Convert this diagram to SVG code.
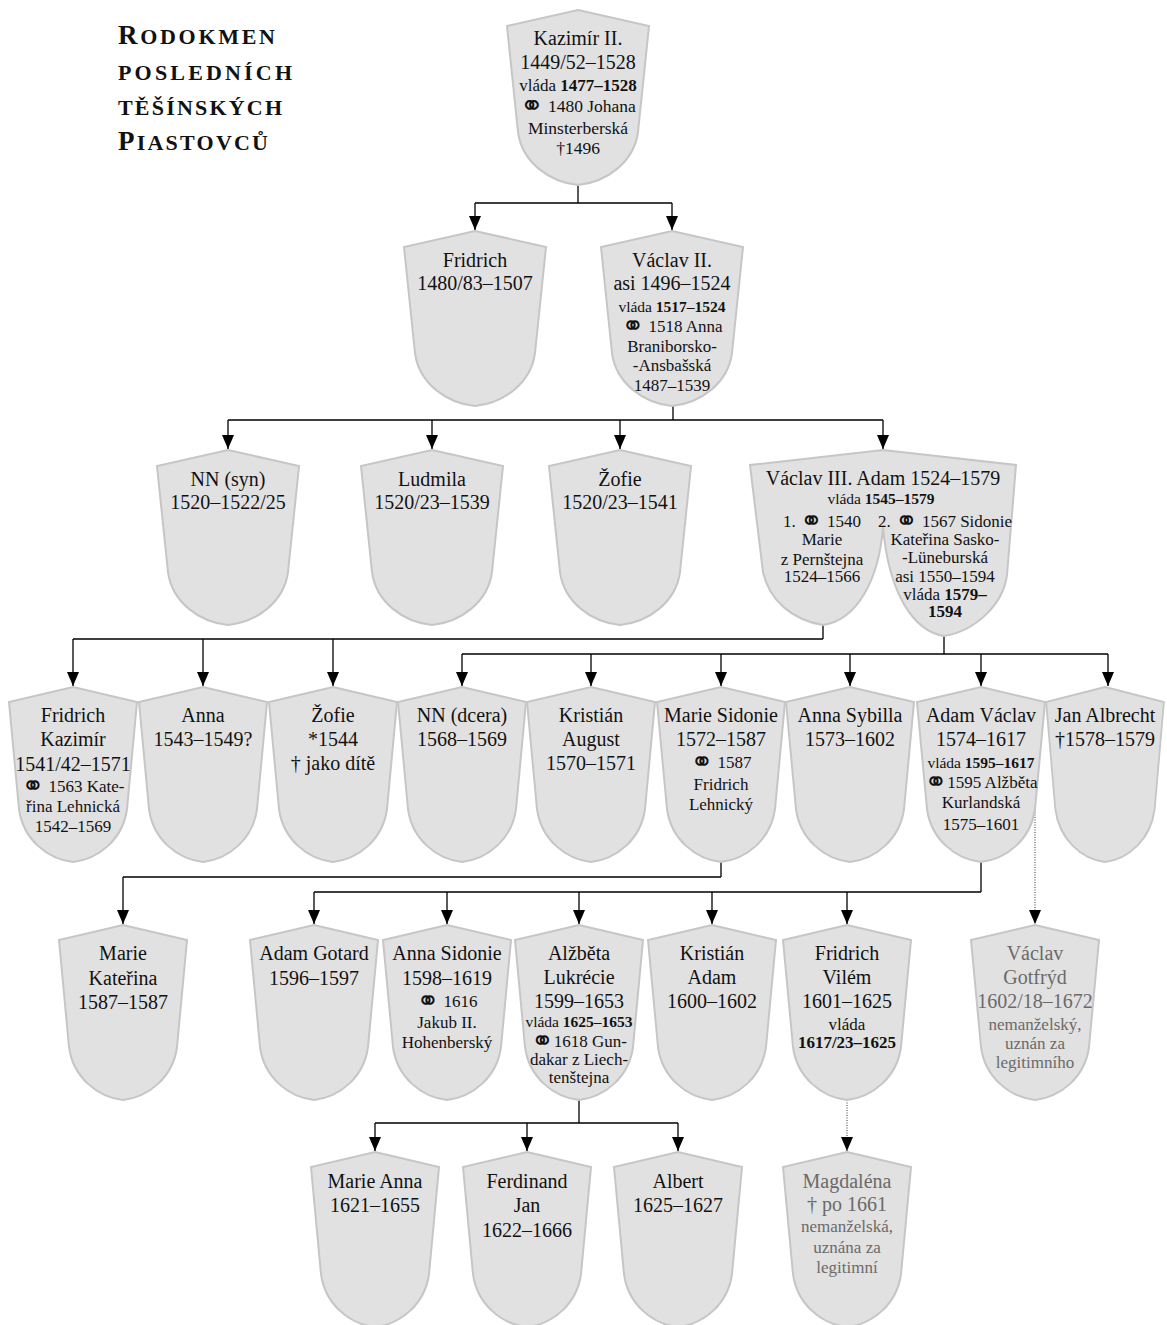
<svg xmlns="http://www.w3.org/2000/svg" xmlns:xlink="http://www.w3.org/1999/xlink" width="1167" height="1325" viewBox="0 0 1167 1325">
<defs>
<style>
.sh{fill:#e1e1e1;stroke:#c6c6c6;stroke-width:2}
text{font-family:"Liberation Serif","DejaVu Serif",serif;fill:#111;text-anchor:middle}
.L{font-size:20px}
.S{font-size:17px}
.V{font-size:15.5px}
.K{font-size:17.5px}
.b{font-weight:bold}
.r{font-family:"DejaVu Sans",sans-serif;font-weight:bold;font-size:1.6em;baseline-shift:-3px}
.g{fill:#6a6a6a}
.t{font-family:"Liberation Serif",serif;font-weight:bold;font-size:27px;text-anchor:start;fill:#111}
.sc{text-transform:uppercase;font-size:22px}
.c{fill:none;stroke:#000;stroke-width:1.3}
.d{fill:none;stroke:#333;stroke-width:1;stroke-dasharray:1 1.5}
</style>
<path id="shA" d="M0,0 L71,16 L60,122 C56,152 29,172 0,175 C-29,172 -56,152 -60,122 L-71,16 Z"/>
<path id="shB" d="M0,0 L64,15 L54,122 C50,152 26,172 0,175 C-26,172 -50,152 -54,122 L-64,15 Z"/>
<marker id="ah" markerUnits="userSpaceOnUse" markerWidth="14" markerHeight="12" refX="14" refY="6" orient="auto">
<path d="M0,0 L14,6 L0,12 Z" fill="#000"/>
</marker>
</defs>

<g id="title">
<text class="t" x="118" y="44" textLength="157" lengthAdjust="spacing">R<tspan class="sc">odokmen</tspan></text>
<text class="t" x="118" y="80" textLength="174" lengthAdjust="spacing"><tspan class="sc">posledních</tspan></text>
<text class="t" x="118" y="115" textLength="164" lengthAdjust="spacing"><tspan class="sc">těšínských</tspan></text>
<text class="t" x="118" y="150" textLength="150" lengthAdjust="spacing">P<tspan class="sc">iastovců</tspan></text>
</g>

<g id="connectors">
<path class="c" d="M578,186 V203 M475,203 H672"/>
<path class="c" marker-end="url(#ah)" d="M475,203 V230"/>
<path class="c" marker-end="url(#ah)" d="M672,203 V230"/>
<path class="c" d="M673,406 V420 M228,420 H883"/>
<path class="c" marker-end="url(#ah)" d="M228,420 V449"/>
<path class="c" marker-end="url(#ah)" d="M432,420 V449"/>
<path class="c" marker-end="url(#ah)" d="M620,420 V449"/>
<path class="c" marker-end="url(#ah)" d="M883,420 V449"/>
<path class="c" d="M823,625 V639 M73,639 H823"/>
<path class="c" marker-end="url(#ah)" d="M73,639 V686"/>
<path class="c" marker-end="url(#ah)" d="M203,639 V686"/>
<path class="c" marker-end="url(#ah)" d="M333,639 V686"/>
<path class="c" d="M944,636 V654 M462,654 H1108"/>
<path class="c" marker-end="url(#ah)" d="M462,654 V686"/>
<path class="c" marker-end="url(#ah)" d="M591,654 V686"/>
<path class="c" marker-end="url(#ah)" d="M721,654 V686"/>
<path class="c" marker-end="url(#ah)" d="M850,654 V686"/>
<path class="c" marker-end="url(#ah)" d="M981,654 V686"/>
<path class="c" marker-end="url(#ah)" d="M1108,654 V686"/>
<path class="c" d="M721,862 V877 M123,877 H721"/>
<path class="c" marker-end="url(#ah)" d="M123,877 V924"/>
<path class="c" d="M981,862 V892 M314,892 H981"/>
<path class="c" marker-end="url(#ah)" d="M314,892 V924"/>
<path class="c" marker-end="url(#ah)" d="M447,892 V924"/>
<path class="c" marker-end="url(#ah)" d="M579,892 V924"/>
<path class="c" marker-end="url(#ah)" d="M712,892 V924"/>
<path class="c" marker-end="url(#ah)" d="M847,892 V924"/>
<path class="d" marker-end="url(#ah)" d="M1035,792 V924"/>
<path class="c" d="M579,1100 V1123 M375,1123 H678"/>
<path class="c" marker-end="url(#ah)" d="M375,1123 V1151"/>
<path class="c" marker-end="url(#ah)" d="M527,1123 V1151"/>
<path class="c" marker-end="url(#ah)" d="M678,1123 V1151"/>
<path class="d" marker-end="url(#ah)" d="M847,1100 V1151"/>
</g>

<g id="kazimir2">
<use href="#shA" x="578" y="10" class="sh"/>
<text class="L" x="578" y="45">Kazimír II.</text>
<text class="L" x="578" y="69">1449/52–1528</text>
<text class="S" x="578" y="91">vláda <tspan class="b">1477–1528</tspan></text>
<text class="K" x="578" y="112"><tspan class="r">⚭</tspan> 1480 Johana</text>
<text class="K" x="578" y="134">Minsterberská</text>
<text class="K" x="578" y="154">†1496</text>
</g>

<g id="fridrich">
<use href="#shA" x="475" y="231" class="sh"/>
<text class="L" x="475" y="267">Fridrich</text>
<text class="L" x="475" y="290">1480/83–1507</text>
</g>

<g id="vaclav2">
<use href="#shA" x="672" y="231" class="sh"/>
<text class="L" x="672" y="267">Václav II.</text>
<text class="L" x="672" y="290">asi 1496–1524</text>
<text class="V" x="672" y="312">vláda <tspan class="b">1517–1524</tspan></text>
<text class="S" x="672" y="332"><tspan class="r">⚭</tspan> 1518 Anna</text>
<text class="S" x="672" y="352">Braniborsko-</text>
<text class="S" x="672" y="371">-Ansbašská</text>
<text class="S" x="672" y="391">1487–1539</text>
</g>

<g id="nn-syn">
<use href="#shA" x="228" y="450" class="sh"/>
<text class="L" x="228" y="486">NN (syn)</text>
<text class="L" x="228" y="509">1520–1522/25</text>
</g>

<g id="ludmila">
<use href="#shA" x="432" y="450" class="sh"/>
<text class="L" x="432" y="486">Ludmila</text>
<text class="L" x="432" y="509">1520/23–1539</text>
</g>

<g id="zofie1">
<use href="#shA" x="620" y="450" class="sh"/>
<text class="L" x="620" y="486">Žofie</text>
<text class="L" x="620" y="509">1520/23–1541</text>
</g>

<g id="vaclav3">
<path class="sh" d="M883,450 L1016,465 L1007,575 C1003,605 975,631 944,636 C914,631 889,595 883,527 C879,580 857,620 823,625 C792,620 769,600 763,572 L750,465 Z"/>
<text class="L" x="883" y="485">Václav III. Adam 1524–1579</text>
<text class="V" x="881" y="504">vláda <tspan class="b">1545–1579</tspan></text>
<text class="S" x="822" y="527">1. <tspan class="r">⚭</tspan> 1540</text>
<text class="S" x="822" y="545">Marie</text>
<text class="S" x="822" y="565">z Pernštejna</text>
<text class="S" x="822" y="582">1524–1566</text>
<text class="S" x="945" y="527">2. <tspan class="r">⚭</tspan> 1567 Sidonie</text>
<text class="S" x="945" y="545">Kateřina Sasko-</text>
<text class="S" x="945" y="563">-Lüneburská</text>
<text class="S" x="945" y="582">asi 1550–1594</text>
<text class="S" x="945" y="600">vláda <tspan class="b">1579–</tspan></text>
<text class="S b" x="945" y="617">1594</text>
</g>

<g id="fridrich-kazimir">
<use href="#shB" x="73" y="687" class="sh"/>
<text class="L" x="73" y="722">Fridrich</text>
<text class="L" x="73" y="746">Kazimír</text>
<text class="L" x="73" y="771">1541/42–1571</text>
<text class="S" x="73" y="792"><tspan class="r">⚭</tspan> 1563 Kate-</text>
<text class="S" x="73" y="812">řina Lehnická</text>
<text class="S" x="73" y="832">1542–1569</text>
</g>

<g id="anna1">
<use href="#shB" x="203" y="687" class="sh"/>
<text class="L" x="203" y="722">Anna</text>
<text class="L" x="203" y="746">1543–1549?</text>
</g>

<g id="zofie2">
<use href="#shB" x="333" y="687" class="sh"/>
<text class="L" x="333" y="722">Žofie</text>
<text class="L" x="333" y="746">*1544</text>
<text class="L" x="333" y="770">† jako dítě</text>
</g>

<g id="nn-dcera">
<use href="#shB" x="462" y="687" class="sh"/>
<text class="L" x="462" y="722">NN (dcera)</text>
<text class="L" x="462" y="746">1568–1569</text>
</g>

<g id="kristian-august">
<use href="#shB" x="591" y="687" class="sh"/>
<text class="L" x="591" y="722">Kristián</text>
<text class="L" x="591" y="746">August</text>
<text class="L" x="591" y="770">1570–1571</text>
</g>

<g id="marie-sidonie">
<use href="#shB" x="721" y="687" class="sh"/>
<text class="L" x="721" y="722">Marie Sidonie</text>
<text class="L" x="721" y="746">1572–1587</text>
<text class="S" x="721" y="768"><tspan class="r">⚭</tspan> 1587</text>
<text class="S" x="721" y="790">Fridrich</text>
<text class="S" x="721" y="810">Lehnický</text>
</g>

<g id="anna-sybilla">
<use href="#shB" x="850" y="687" class="sh"/>
<text class="L" x="850" y="722">Anna Sybilla</text>
<text class="L" x="850" y="746">1573–1602</text>
</g>

<g id="adam-vaclav">
<use href="#shB" x="981" y="687" class="sh"/>
<text class="L" x="981" y="722">Adam Václav</text>
<text class="L" x="981" y="746">1574–1617</text>
<text class="V" x="981" y="768">vláda <tspan class="b">1595–1617</tspan></text>
<text class="S" x="981" y="788"><tspan class="r">⚭</tspan>1595 Alžběta</text>
<text class="S" x="981" y="808">Kurlandská</text>
<text class="S" x="981" y="830">1575–1601</text>
</g>

<g id="jan-albrecht">
<use href="#shB" class="sh" transform="translate(1105,687) scale(0.92,1)"/>
<text class="L" x="1105" y="722">Jan Albrecht</text>
<text class="L" x="1105" y="746">†1578–1579</text>
</g>

<g id="marie-katerina">
<use href="#shB" x="123" y="925" class="sh"/>
<text class="L" x="123" y="960">Marie</text>
<text class="L" x="123" y="985">Kateřina</text>
<text class="L" x="123" y="1009">1587–1587</text>
</g>

<g id="adam-gotard">
<use href="#shB" x="314" y="925" class="sh"/>
<text class="L" x="314" y="960">Adam Gotard</text>
<text class="L" x="314" y="985">1596–1597</text>
</g>

<g id="anna-sidonie">
<use href="#shB" x="447" y="925" class="sh"/>
<text class="L" x="447" y="960">Anna Sidonie</text>
<text class="L" x="447" y="985">1598–1619</text>
<text class="S" x="447" y="1007"><tspan class="r">⚭</tspan> 1616</text>
<text class="S" x="447" y="1028">Jakub II.</text>
<text class="S" x="447" y="1048">Hohenberský</text>
</g>

<g id="alzbeta">
<use href="#shB" x="579" y="925" class="sh"/>
<text class="L" x="579" y="960">Alžběta</text>
<text class="L" x="579" y="984">Lukrécie</text>
<text class="L" x="579" y="1008">1599–1653</text>
<text class="V" x="579" y="1027">vláda <tspan class="b">1625–1653</tspan></text>
<text class="S" x="579" y="1047"><tspan class="r">⚭</tspan>1618 Gun-</text>
<text class="S" x="579" y="1065">dakar z Liech-</text>
<text class="S" x="579" y="1083">tenštejna</text>
</g>

<g id="kristian-adam">
<use href="#shB" x="712" y="925" class="sh"/>
<text class="L" x="712" y="960">Kristián</text>
<text class="L" x="712" y="984">Adam</text>
<text class="L" x="712" y="1008">1600–1602</text>
</g>

<g id="fridrich-vilem">
<use href="#shB" x="847" y="925" class="sh"/>
<text class="L" x="847" y="960">Fridrich</text>
<text class="L" x="847" y="984">Vilém</text>
<text class="L" x="847" y="1008">1601–1625</text>
<text class="S" x="847" y="1030">vláda</text>
<text class="S b" x="847" y="1048">1617/23–1625</text>
</g>

<g id="vaclav-gotfryd">
<use href="#shB" x="1035" y="925" class="sh"/>
<text class="L g" x="1035" y="960">Václav</text>
<text class="L g" x="1035" y="984">Gotfrýd</text>
<text class="L g" x="1035" y="1008">1602/18–1672</text>
<text class="S g" x="1035" y="1030">nemanželský,</text>
<text class="S g" x="1035" y="1049">uznán za</text>
<text class="S g" x="1035" y="1068">legitimního</text>
</g>

<g id="marie-anna">
<use href="#shB" x="375" y="1152" class="sh"/>
<text class="L" x="375" y="1188">Marie Anna</text>
<text class="L" x="375" y="1212">1621–1655</text>
</g>

<g id="ferdinand-jan">
<use href="#shB" x="527" y="1152" class="sh"/>
<text class="L" x="527" y="1188">Ferdinand</text>
<text class="L" x="527" y="1212">Jan</text>
<text class="L" x="527" y="1237">1622–1666</text>
</g>

<g id="albert">
<use href="#shB" x="678" y="1152" class="sh"/>
<text class="L" x="678" y="1188">Albert</text>
<text class="L" x="678" y="1212">1625–1627</text>
</g>

<g id="magdalena">
<use href="#shB" x="847" y="1152" class="sh"/>
<text class="L g" x="847" y="1188">Magdaléna</text>
<text class="L g" x="847" y="1211">† po 1661</text>
<text class="S g" x="847" y="1232">nemanželská,</text>
<text class="S g" x="847" y="1253">uznána za</text>
<text class="S g" x="847" y="1273">legitimní</text>
</g>
</svg>
